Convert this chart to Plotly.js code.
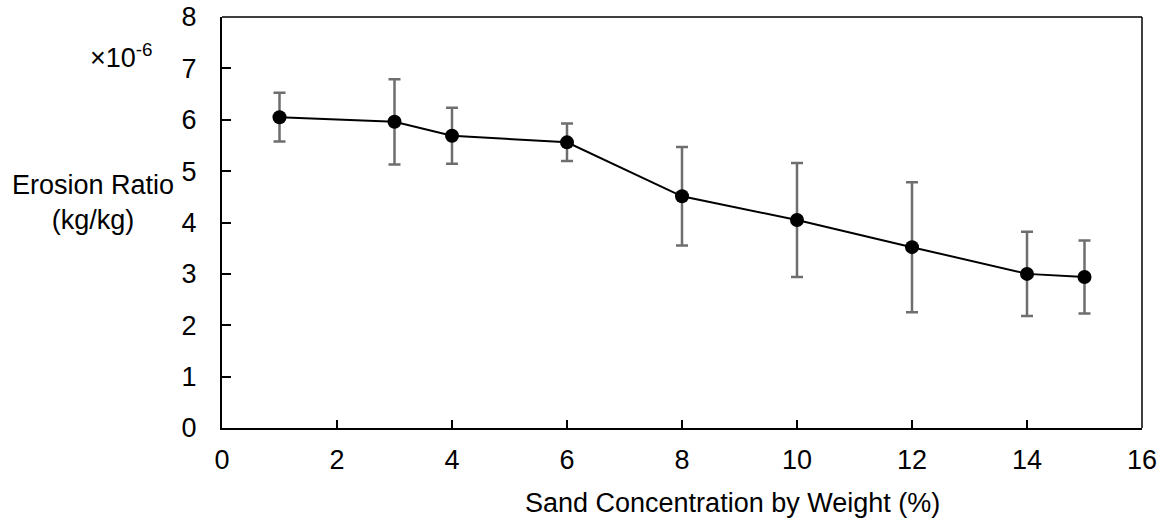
<!DOCTYPE html>
<html>
<head>
<meta charset="utf-8">
<script src="https://cdn.plot.ly/plotly-3.0.1.min.js"></script>
<style>html,body{margin:0;padding:0;background:#fff;}#chart{width:1163px;height:519px;}</style>
</head>
<body>
<div id="chart"></div>
<script>
// Sand concentration by weight (%)
const sandConcentration = [1, 3, 4, 6, 8, 10, 12, 14, 15];
// Erosion ratio (x10^-6 kg/kg)
const erosionRatio = [6.05, 5.96, 5.69, 5.56, 4.51, 4.05, 3.52, 3.00, 2.94];
// Error bar half-lengths (x10^-6 kg/kg)
const errorSize = [0.475, 0.83, 0.545, 0.365, 0.96, 1.11, 1.265, 0.82, 0.71];
const xTicks = [0, 2, 4, 6, 8, 10, 12, 14, 16];
const yTicks = [0, 1, 2, 3, 4, 5, 6, 7, 8];

const font = {family: 'Liberation Sans, Arial, sans-serif', size: 27, color: '#000'};

const trace = {
  x: sandConcentration,
  y: erosionRatio,
  type: 'scatter',
  mode: 'lines+markers',
  line: {color: '#000', width: 2},
  marker: {color: '#000', size: 14},
  error_y: {
    type: 'data',
    array: errorSize,
    color: '#6e6e6e',
    thickness: 2.5,
    width: 6
  },
  showlegend: false,
  hoverinfo: 'x+y'
};

const layout = {
  width: 1163,
  height: 519,
  margin: {l: 222, r: 21, t: 17, b: 91},
  paper_bgcolor: '#fff',
  plot_bgcolor: '#fff',
  font: font,
  xaxis: {
    range: [0, 16],
    tickvals: xTicks,
    ticktext: xTicks.map(String),
    ticks: 'inside',
    ticklen: 8,
    tickwidth: 2,
    tickcolor: '#000',
    showline: true,
    linecolor: '#000',
    linewidth: 2,
    showgrid: false,
    zeroline: false,
    ticklabelstandoff: 7,
    tickfont: font
  },
  yaxis: {
    range: [0, 8],
    tickvals: yTicks,
    ticktext: yTicks.map(String),
    ticks: 'inside',
    ticklen: 9,
    tickwidth: 2,
    tickcolor: '#000',
    showline: true,
    linecolor: '#000',
    linewidth: 2,
    showgrid: false,
    zeroline: false,
    ticklabelstandoff: 18,
    tickfont: font
  },
  shapes: [
    {type: 'line', xref: 'paper', yref: 'paper', x0: 0, x1: 1, y0: 1, y1: 1, line: {color: '#000', width: 1.5}},
    {type: 'line', xref: 'paper', yref: 'paper', x0: 1, x1: 1, y0: 0, y1: 1, line: {color: '#000', width: 1.5}}
  ],
  annotations: [
    {
      xref: 'paper', yref: 'paper',
      x: 0.5554, y: -0.1818,
      xanchor: 'center', yanchor: 'middle',
      text: 'Sand Concentration by Weight (%)',
      showarrow: false,
      font: font
    },
    {
      xref: 'paper', yref: 'paper',
      x: -0.140, y: 0.548,
      xanchor: 'center', yanchor: 'middle',
      text: 'Erosion Ratio<br>(kg/kg)',
      showarrow: false,
      align: 'center',
      font: font
    },
    {
      xref: 'paper', yref: 'paper',
      x: -0.0728, y: 0.905,
      xanchor: 'right', yanchor: 'middle',
      text: '×10<sup>-6</sup>',
      showarrow: false,
      font: font
    }
  ]
};

Plotly.newPlot('chart', [trace], layout, {displayModeBar: false, staticPlot: true});
</script>
</body>
</html>
